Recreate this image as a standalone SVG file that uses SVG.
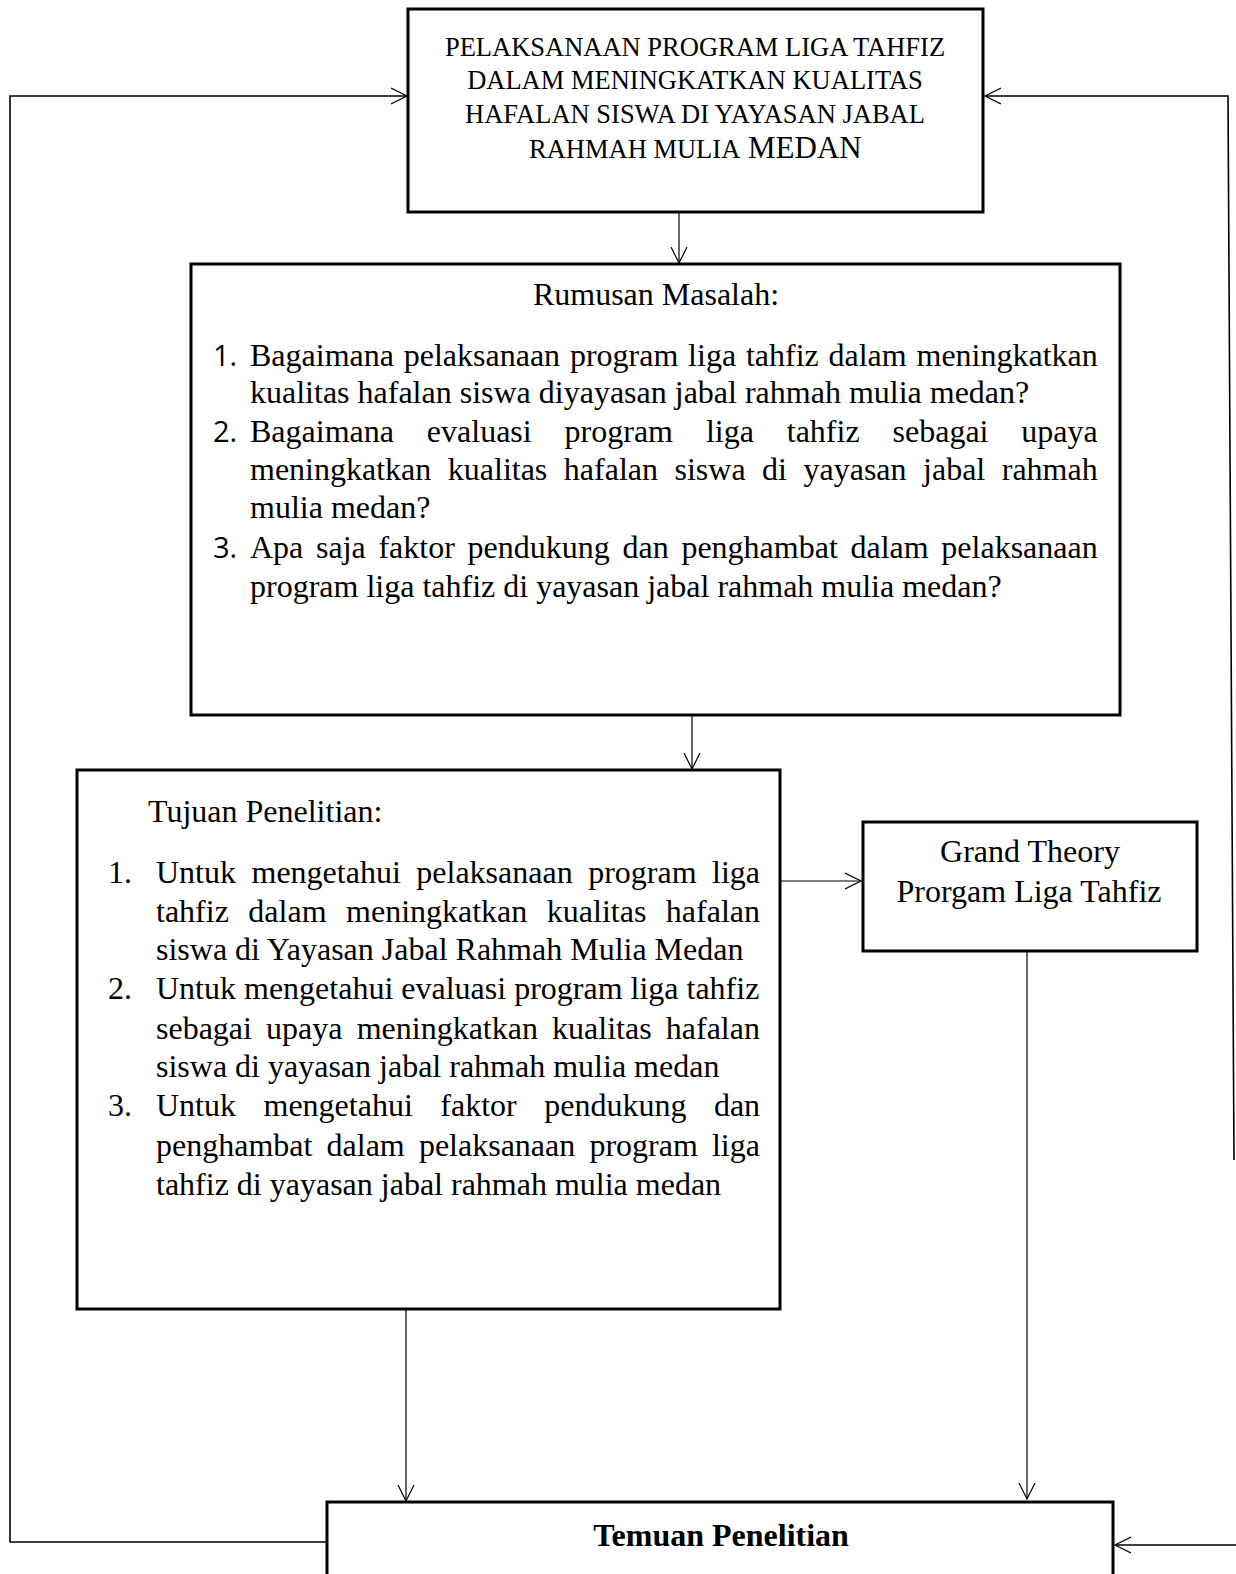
<svg xmlns="http://www.w3.org/2000/svg" width="1236" height="1574" viewBox="0 0 1236 1574">
<defs>
<marker id="arr" markerUnits="userSpaceOnUse" markerWidth="20" markerHeight="20" refX="16" refY="8" orient="auto" viewBox="0 0 20 16">
<path d="M0,0 L16,8 L0,16" fill="none" stroke="#000" stroke-width="1.2"/>
</marker>
</defs>
<style>
.box{fill:#fff;stroke:#000;stroke-width:3}
.t{font-family:"Liberation Serif","Times New Roman",serif;fill:#000}
.title{font-size:26.5px}
.big{font-size:31px}
.b{font-size:32px}
.num{font-family:"Open Sans","Noto Sans","Liberation Sans",sans-serif;font-size:29px;fill:#000}
.c{text-anchor:middle}
.con{fill:none;stroke:#000;stroke-width:1.2}
.loop{fill:none;stroke:#000;stroke-width:1.6}
</style>
<rect width="1236" height="1574" fill="#fff"/>

<g id="connectors">
<line class="con" x1="679" y1="212" x2="679" y2="263" marker-end="url(#arr)"/>
<line class="con" x1="692" y1="716" x2="692" y2="769" marker-end="url(#arr)"/>
<line class="con" x1="780" y1="881" x2="861" y2="881" marker-end="url(#arr)"/>
<line class="con" x1="1027" y1="944" x2="1027" y2="1499" marker-end="url(#arr)"/>
<line class="con" x1="406" y1="1309" x2="406" y2="1501" marker-end="url(#arr)"/>
<polyline class="loop" points="327,1542 10,1542 10,96 407,96" marker-end="url(#arr)"/>
<polyline class="loop" points="1234,1160 1228,96 985,96" marker-end="url(#arr)"/>
<line class="loop" x1="1236" y1="1545" x2="1115" y2="1545" marker-end="url(#arr)"/>
</g>

<g id="judul">
<rect class="box" x="408" y="9" width="575" height="203"/>
<text class="t title c" x="695" y="56">PELAKSANAAN PROGRAM LIGA TAHFIZ</text>
<text class="t title c" x="695" y="89">DALAM MENINGKATKAN KUALITAS</text>
<text class="t title c" x="695" y="123">HAFALAN SISWA DI YAYASAN JABAL</text>
<text class="t title" x="529" y="158">RAHMAH MULIA</text>
<text class="t big" x="748" y="158">MEDAN</text>
</g>

<g id="rumusan">
<rect class="box" x="191" y="264" width="929" height="451"/>
<text class="t b c" x="656" y="305">Rumusan Masalah:</text>
<text class="num" x="213" y="366">1.</text>
<text class="t b" x="250" y="366" word-spacing="1.8">Bagaimana pelaksanaan program liga tahfiz dalam meningkatkan</text>
<text class="t b" x="250" y="403">kualitas hafalan siswa diyayasan jabal rahmah mulia medan?</text>
<text class="num" x="213" y="442">2.</text>
<text class="t b" x="250" y="442" word-spacing="24.9">Bagaimana evaluasi program liga tahfiz sebagai upaya</text>
<text class="t b" x="250" y="480" word-spacing="8.5">meningkatkan kualitas hafalan siswa di yayasan jabal rahmah</text>
<text class="t b" x="250" y="518">mulia medan?</text>
<text class="num" x="213" y="558">3.</text>
<text class="t b" x="250" y="558" word-spacing="4.7">Apa saja faktor pendukung dan penghambat dalam pelaksanaan</text>
<text class="t b" x="250" y="597">program liga tahfiz di yayasan jabal rahmah mulia medan?</text>
</g>

<g id="tujuan">
<rect class="box" x="77" y="770" width="703" height="539"/>
<text class="t b" x="148" y="822">Tujuan Penelitian:</text>
<text class="t b" x="108" y="883">1.</text>
<text class="t b" x="156" y="883" word-spacing="7.5">Untuk mengetahui pelaksanaan program liga</text>
<text class="t b" x="156" y="922" word-spacing="11.5">tahfiz dalam meningkatkan kualitas hafalan</text>
<text class="t b" x="156" y="960">siswa di Yayasan Jabal Rahmah Mulia Medan</text>
<text class="t b" x="108" y="999">2.</text>
<text class="t b" x="156" y="999">Untuk mengetahui evaluasi program liga tahfiz</text>
<text class="t b" x="156" y="1039" word-spacing="6.15">sebagai upaya meningkatkan kualitas hafalan</text>
<text class="t b" x="156" y="1077">siswa di yayasan jabal rahmah mulia medan</text>
<text class="t b" x="108" y="1116">3.</text>
<text class="t b" x="156" y="1116" word-spacing="19.5">Untuk mengetahui faktor pendukung dan</text>
<text class="t b" x="156" y="1156" word-spacing="6.15">penghambat dalam pelaksanaan program liga</text>
<text class="t b" x="156" y="1195">tahfiz di yayasan jabal rahmah mulia medan</text>
</g>

<g id="grand-theory">
<rect class="box" x="863" y="822" width="334" height="129"/>
<text class="t b c" x="1030" y="862">Grand Theory</text>
<text class="t b c" x="1029" y="902">Prorgam Liga Tahfiz</text>
</g>

<g id="temuan">
<rect class="box" x="327" y="1502" width="786" height="100"/>
<text class="t b c" x="721" y="1546" font-weight="bold">Temuan Penelitian</text>
</g>
</svg>
